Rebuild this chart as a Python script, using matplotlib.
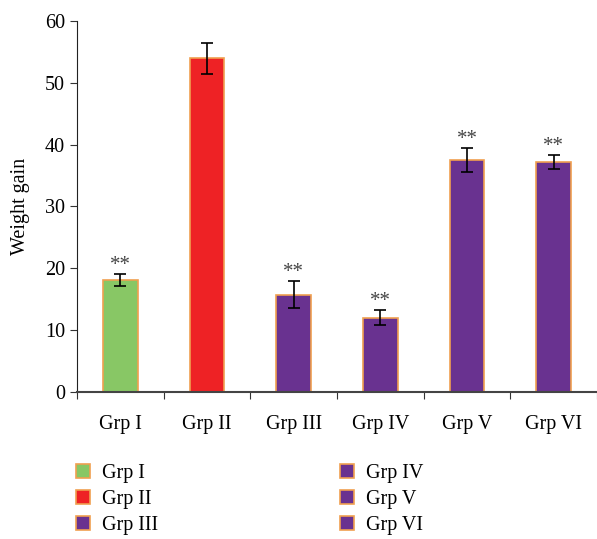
import numpy as np
import matplotlib.pyplot as plt
from matplotlib.patches import Patch

# Data
groups = ['Grp I', 'Grp II', 'Grp III', 'Grp IV', 'Grp V', 'Grp VI']
weight_gain = [18.1, 54.0, 15.7, 12.0, 37.5, 37.2]
errors = [1.0, 2.5, 2.2, 1.25, 2.0, 1.2]
significance = ['**', '', '**', '**', '**', '**']
colors = ['#88C765', '#EE2225', '#693290', '#693290', '#693290', '#693290']

plt.rcParams['font.family'] = 'serif'
plt.rcParams['font.serif'] = ['Liberation Serif', 'DejaVu Serif']

fig = plt.figure(figsize=(5.97, 5.39), dpi=100)
ax = fig.add_axes([0.129, 0.273, 0.871, 0.688])

x = np.arange(len(groups))
ax.bar(x, weight_gain, width=0.4, color=colors, edgecolor='#F0A050', linewidth=1.2, zorder=2)
ax.errorbar(x, weight_gain, yerr=errors, fmt='none', ecolor='black', elinewidth=1.2, capsize=4, capthick=1.2, zorder=3)

# Significance stars above error bars
for xi, v, e, s in zip(x, weight_gain, errors, significance):
    if s:
        ax.text(xi, v + e - 0.2, s, ha='center', va='bottom', fontsize=15, color='#444444')

ax.set_xlim(-0.5, 5.5)
ax.set_ylim(0, 60)
ax.set_yticks(np.arange(0, 61, 10))
ax.set_xticks(np.arange(-0.5, 5.6, 1), minor=False)
ax.set_xticklabels([])
ax.set_xticks(x, minor=True)
ax.set_xticklabels(groups, minor=True)
ax.tick_params(axis='x', which='minor', length=0, pad=17, labelsize=14.5)
ax.tick_params(axis='x', which='major', direction='out', length=5, color='#333333')
ax.tick_params(axis='y', direction='out', length=5, labelsize=14.5, color='#333333')
ax.set_ylabel('Weight gain', fontsize=14.5)
ax.yaxis.set_label_coords(-0.09, 0.5)
for side in ['top', 'right']:
    ax.spines[side].set_visible(False)
ax.spines['left'].set_color('#222222')
ax.spines['bottom'].set_color('#444444')
ax.spines['bottom'].set_linewidth(1.5)

handles = [Patch(facecolor=c, edgecolor='#F0A050', linewidth=1.2) for c in colors]
fig.legend(handles, groups, loc='upper left', bbox_to_anchor=(0.097, 0.173), ncol=2,
           frameon=False, fontsize=14.5, handlelength=0.7, handleheight=0.7,
           handletextpad=0.6, columnspacing=9.0, labelspacing=0.35)

plt.savefig('out.png', dpi=100)
